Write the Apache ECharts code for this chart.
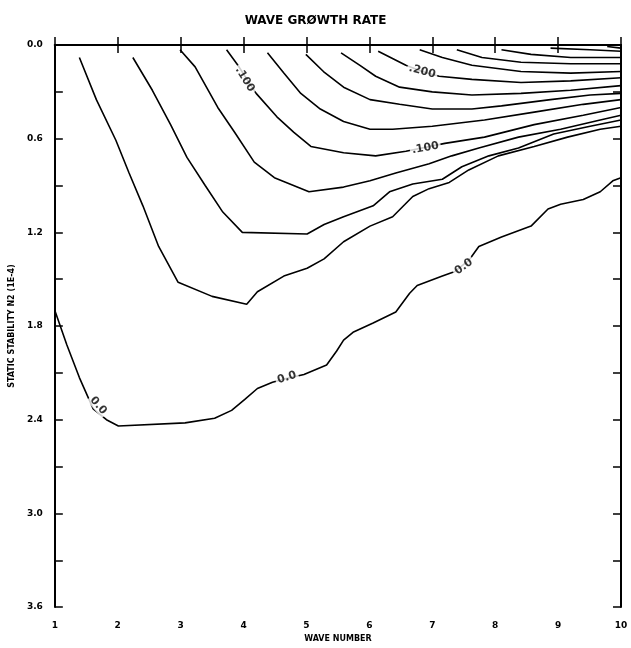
<!DOCTYPE html>
<html>
<head>
<meta charset="utf-8">
<script src="https://cdn.jsdelivr.net/npm/echarts@6/dist/echarts.min.js"></script>
<style>
html,body{margin:0;padding:0;background:#fff;}
#chart{width:631px;height:648px;}
</style>
</head>
<body>
<div id="chart"></div>
<script>
// Tick labels
var waveTicks = [1,2,3,4,5,6,7,8,9,10];
var stabilityTicks = [0.0,0.6,1.2,1.8,2.4,3.0,3.6];

// Contour lines: [wave number, static stability] pairs, one array per level
var c000 = [[1.00,1.70],[1.19,1.92],[1.39,2.13],[1.61,2.33],[1.82,2.40],[2.01,2.44],[3.07,2.42],[3.54,2.39],[3.81,2.34],[4.02,2.27],[4.22,2.20],[4.46,2.16],[4.64,2.14],[4.96,2.11],[5.32,2.05],[5.48,1.96],[5.59,1.89],[5.74,1.84],[6.06,1.78],[6.42,1.71],[6.64,1.59],[6.76,1.54],[7.16,1.48],[7.36,1.45],[7.58,1.38],[7.74,1.29],[8.10,1.23],[8.57,1.16],[8.84,1.05],[9.04,1.02],[9.40,0.99],[9.67,0.94],[9.87,0.87],[10.0,0.85]];
var c025 = [[1.39,0.08],[1.66,0.35],[1.97,0.61],[2.18,0.82],[2.40,1.03],[2.65,1.29],[2.96,1.52],[3.50,1.61],[4.05,1.66],[4.22,1.58],[4.64,1.48],[5.01,1.43],[5.28,1.37],[5.59,1.26],[6.01,1.16],[6.37,1.10],[6.69,0.97],[6.95,0.92],[7.27,0.88],[7.58,0.80],[8.05,0.71],[8.62,0.65],[9.15,0.59],[9.67,0.54],[10.0,0.52]];
var c050 = [[2.24,0.08],[2.55,0.29],[2.84,0.51],[3.10,0.72],[3.39,0.90],[3.67,1.07],[3.98,1.20],[5.01,1.21],[5.28,1.15],[5.59,1.10],[6.06,1.03],[6.32,0.94],[6.69,0.89],[7.16,0.86],[7.47,0.78],[7.90,0.71],[8.37,0.66],[8.93,0.57],[9.51,0.52],[10.0,0.48]];
var c075 = [[2.99,0.03],[3.23,0.14],[3.59,0.40],[3.86,0.56],[4.17,0.75],[4.49,0.85],[5.04,0.94],[5.59,0.91],[6.01,0.87],[6.42,0.82],[6.95,0.76],[7.31,0.71],[7.74,0.66],[8.37,0.59],[9.04,0.54],[9.67,0.48],[10.0,0.45]];
var c100 = [[3.73,0.03],[3.91,0.13],[4.20,0.31],[4.53,0.46],[4.80,0.56],[5.07,0.65],[5.59,0.69],[6.10,0.71],[6.58,0.68],[7.20,0.63],[7.83,0.59],[8.62,0.51],[9.40,0.45],[10.0,0.40]];
var c125 = [[4.38,0.05],[4.64,0.18],[4.91,0.31],[5.22,0.41],[5.59,0.49],[6.01,0.54],[6.37,0.54],[7.00,0.52],[7.83,0.48],[8.62,0.43],[9.40,0.38],[10.0,0.35]];
var c150 = [[4.99,0.06],[5.27,0.17],[5.59,0.27],[6.01,0.35],[6.48,0.38],[7.00,0.41],[7.63,0.41],[8.10,0.39],[8.88,0.35],[9.51,0.32],[10.0,0.31]];
var c175 = [[5.55,0.05],[5.85,0.13],[6.10,0.20],[6.48,0.27],[7.00,0.30],[7.63,0.32],[8.41,0.31],[9.20,0.29],[10.0,0.26]];
var c200 = [[6.14,0.04],[6.58,0.13],[6.84,0.17],[7.11,0.20],[7.63,0.22],[8.41,0.24],[9.20,0.23],[10.0,0.21]];
var c225 = [[6.80,0.03],[7.16,0.08],[7.63,0.13],[8.41,0.17],[9.20,0.18],[10.0,0.17]];
var c250 = [[7.39,0.03],[7.79,0.08],[8.41,0.11],[9.20,0.12],[10.0,0.12]];
var c275 = [[8.10,0.03],[8.57,0.06],[9.20,0.08],[10.0,0.08]];
var c300 = [[8.88,0.02],[9.51,0.03],[10.0,0.04]];
var c325 = [[9.78,0.01],[10.0,0.02]];

// Contour labels: [wave, stability, text]
var labelPoints = [[4.02,0.22,'.100'],[6.84,0.17,'.200'],[6.89,0.66,'.100'],[1.69,2.31,'0.0'],[4.69,2.13,'0.0'],[7.50,1.42,'0.0']];
var labelAngles = [-58,-15,10,-50,18,35];

var contours = [c000,c025,c050,c075,c100,c125,c150,c175,c200,c225,c250,c275,c300,c325];

var FONT = 'DejaVu Sans';
var series = contours.map(function(c){
  return {type:'line', data:c, symbol:'none', smooth:false, silent:true,
    lineStyle:{color:'#000', width:1.6}, z:2, animation:false};
});
series.push({
  type:'scatter', z:5, symbolSize:1, silent:true, animation:false,
  itemStyle:{color:'rgba(0,0,0,0)'},
  data: labelPoints.map(function(p,i){
    return {value:[p[0],p[1]], name:p[2], label:{rotate:labelAngles[i]}};
  }),
  label:{show:true, position:'inside', formatter:function(d){return d.name;},
    color:'#000', fontFamily:FONT, fontWeight:'bold', fontSize:11,
    textBorderWidth:0, backgroundColor:'#fff', padding:[0,2]}
});

var chart = echarts.init(document.getElementById('chart'), null, {renderer:'canvas'});
var axisLine = {show:true, lineStyle:{color:'#000', width:2}};
chart.setOption({
  animation:false,
  backgroundColor:'#fff',
  title:{text:'WAVE GRØWTH RATE', left:'center', top:10,
    textStyle:{fontFamily:FONT, fontWeight:'bold', fontSize:12, color:'#000'}},
  grid:{left:46, right:10, top:45, bottom:38, containLabel:false},
  xAxis:[{
    type:'value', min:1, max:10, interval:1, position:'bottom',
    name:'WAVE NUMBER', nameLocation:'middle', nameGap:25,
    nameTextStyle:{fontFamily:FONT, fontWeight:'bold', fontSize:8, color:'#000'},
    axisLine:axisLine, splitLine:{show:false},
    axisTick:{inside:true, length:8, lineStyle:{color:'#000', width:1.5}},
    axisLabel:{margin:14, fontFamily:FONT, fontWeight:'bold', fontSize:9, color:'#000',
      formatter:function(v){return waveTicks.indexOf(v)>=0 ? String(v) : '';}}
  },{
    type:'value', min:1, max:10, interval:1, position:'top',
    axisLine:axisLine, splitLine:{show:false},
    axisTick:{inside:true, length:8, lineStyle:{color:'#000', width:1.5}},
    axisLabel:{show:false}
  }],
  yAxis:[{
    type:'value', min:0, max:3.6, interval:0.6, inverse:true, position:'left',
    name:'STATIC STABILITY N2 (1E-4)', nameLocation:'middle', nameGap:30,
    nameTextStyle:{fontFamily:FONT, fontWeight:'bold', fontSize:8, color:'#000'},
    axisLine:axisLine, splitLine:{show:false},
    axisTick:{inside:true, length:8, lineStyle:{color:'#000', width:1.5}},
    minorTick:{show:true, splitNumber:2, length:8, lineStyle:{color:'#000', width:1.5}},
    minorSplitLine:{show:false},
    axisLabel:{margin:12, fontFamily:FONT, fontWeight:'bold', fontSize:9, color:'#000',
      formatter:function(v){
        for (var i=0;i<stabilityTicks.length;i++){ if (Math.abs(stabilityTicks[i]-v)<1e-6) return stabilityTicks[i].toFixed(1); }
        return '';
      }}
  },{
    type:'value', min:0, max:3.6, interval:0.3, inverse:true, position:'right',
    axisLine:axisLine, splitLine:{show:false},
    axisTick:{inside:true, length:8, lineStyle:{color:'#000', width:1.5}},
    axisLabel:{show:false}
  }],
  series:series
});
</script>
</body>
</html>
